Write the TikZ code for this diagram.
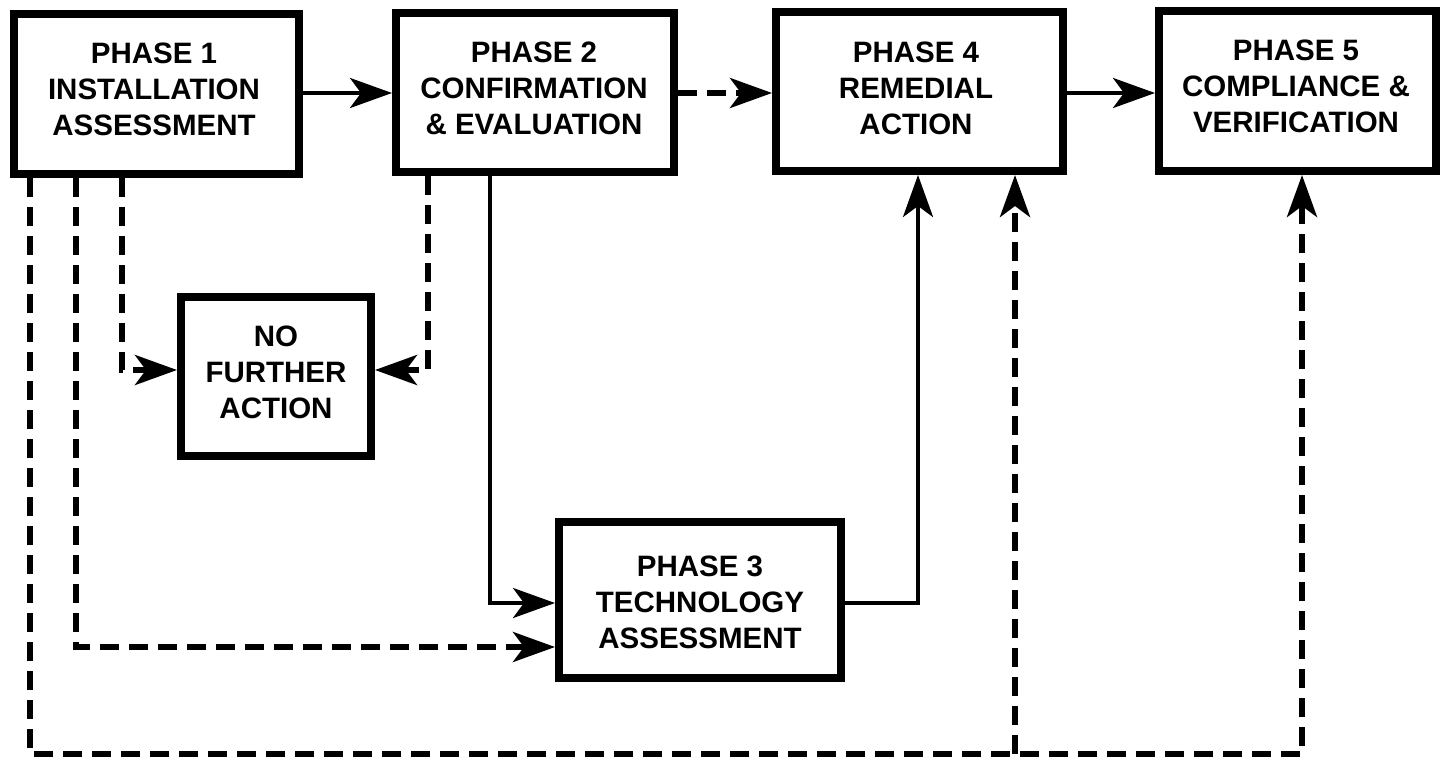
\documentclass[tikz,border=0pt]{standalone}
\usepackage{fontspec}
\setmainfont{Liberation Sans}
\usetikzlibrary{arrows.meta}
\begin{document}
\begin{tikzpicture}[x=1pt,y=-1pt,
  box/.style={draw, line width=8pt, rectangle, inner sep=0pt},
  lbl/.style={font=\bfseries\fontsize{29.5}{36}\selectfont, align=center, inner sep=0pt},
  tip/.style={-{Stealth[length=42pt,width=30pt,inset=11pt]}},
  solidc/.style={line width=4pt, tip},
  dashc/.style={line width=5.5pt, dash pattern=on 19pt off 10pt, tip}
]
\useasboundingbox (0,0) rectangle (1440,757);
% boxes
\node[box, minimum width=285pt, minimum height=160pt] (p1) at (156.5,94) {};
\node[box, minimum width=278pt, minimum height=159pt] (p2) at (535,92.5) {};
\node[box, minimum width=287pt, minimum height=159pt] (p4) at (919.5,91.5) {};
\node[box, minimum width=277pt, minimum height=160pt] (p5) at (1297.5,91) {};
\node[box, minimum width=190pt, minimum height=159pt] (nfa) at (276,376.5) {};
\node[box, minimum width=282pt, minimum height=156pt] (p3) at (700,600) {};
% labels
\node[lbl] (t1) at (154,89) {PHASE 1\\INSTALLATION\\ASSESSMENT};
\node[lbl] (t2) at (534,88) {PHASE 2\\CONFIRMATION\\\& EVALUATION};
\node[lbl] (t4) at (916,88) {PHASE 4\\REMEDIAL\\ACTION};
\node[lbl] (t5) at (1296,86) {PHASE 5\\COMPLIANCE \&\\VERIFICATION};
\node[lbl] (tn) at (276,372) {NO\\FURTHER\\ACTION};
\node[lbl] (t3) at (700,602) {PHASE 3\\TECHNOLOGY\\ASSESSMENT};
% junction coordinates
\coordinate (j0) at (30,754);
\coordinate (j1) at (1015,754);
\coordinate (j2) at (1302,754);
% top row
\draw[solidc] (p1.east |- 0,93) -- (p2.west |- 0,93);
\draw[dashc] (p2.east |- 0,93) -- (p4.west |- 0,93);
\draw[solidc] (p4.east |- 0,93) -- (p5.west |- 0,93);
% to no further action
\draw[dashc] (p1.south -| 122,0) |- (nfa.west |- 0,370);
\draw[dashc] (p2.south -| 428,0) |- (nfa.east |- 0,370);
% to phase 3
\draw[solidc] (p2.south -| 490,0) |- (p3.west |- 0,603);
\draw[dashc] (p1.south -| 76,0) |- (p3.west |- 0,647);
% phase 3 to phase 4
\draw[solidc] (p3.east |- 0,603) -| (p4.south -| 918,0);
% bottom loop
\draw[dashc] (p1.south -| j0) -- (j0) -- (j2) -- (p5.south -| j2);
\draw[dashc] (j1) -- (p4.south -| j1);
\end{tikzpicture}
\end{document}
